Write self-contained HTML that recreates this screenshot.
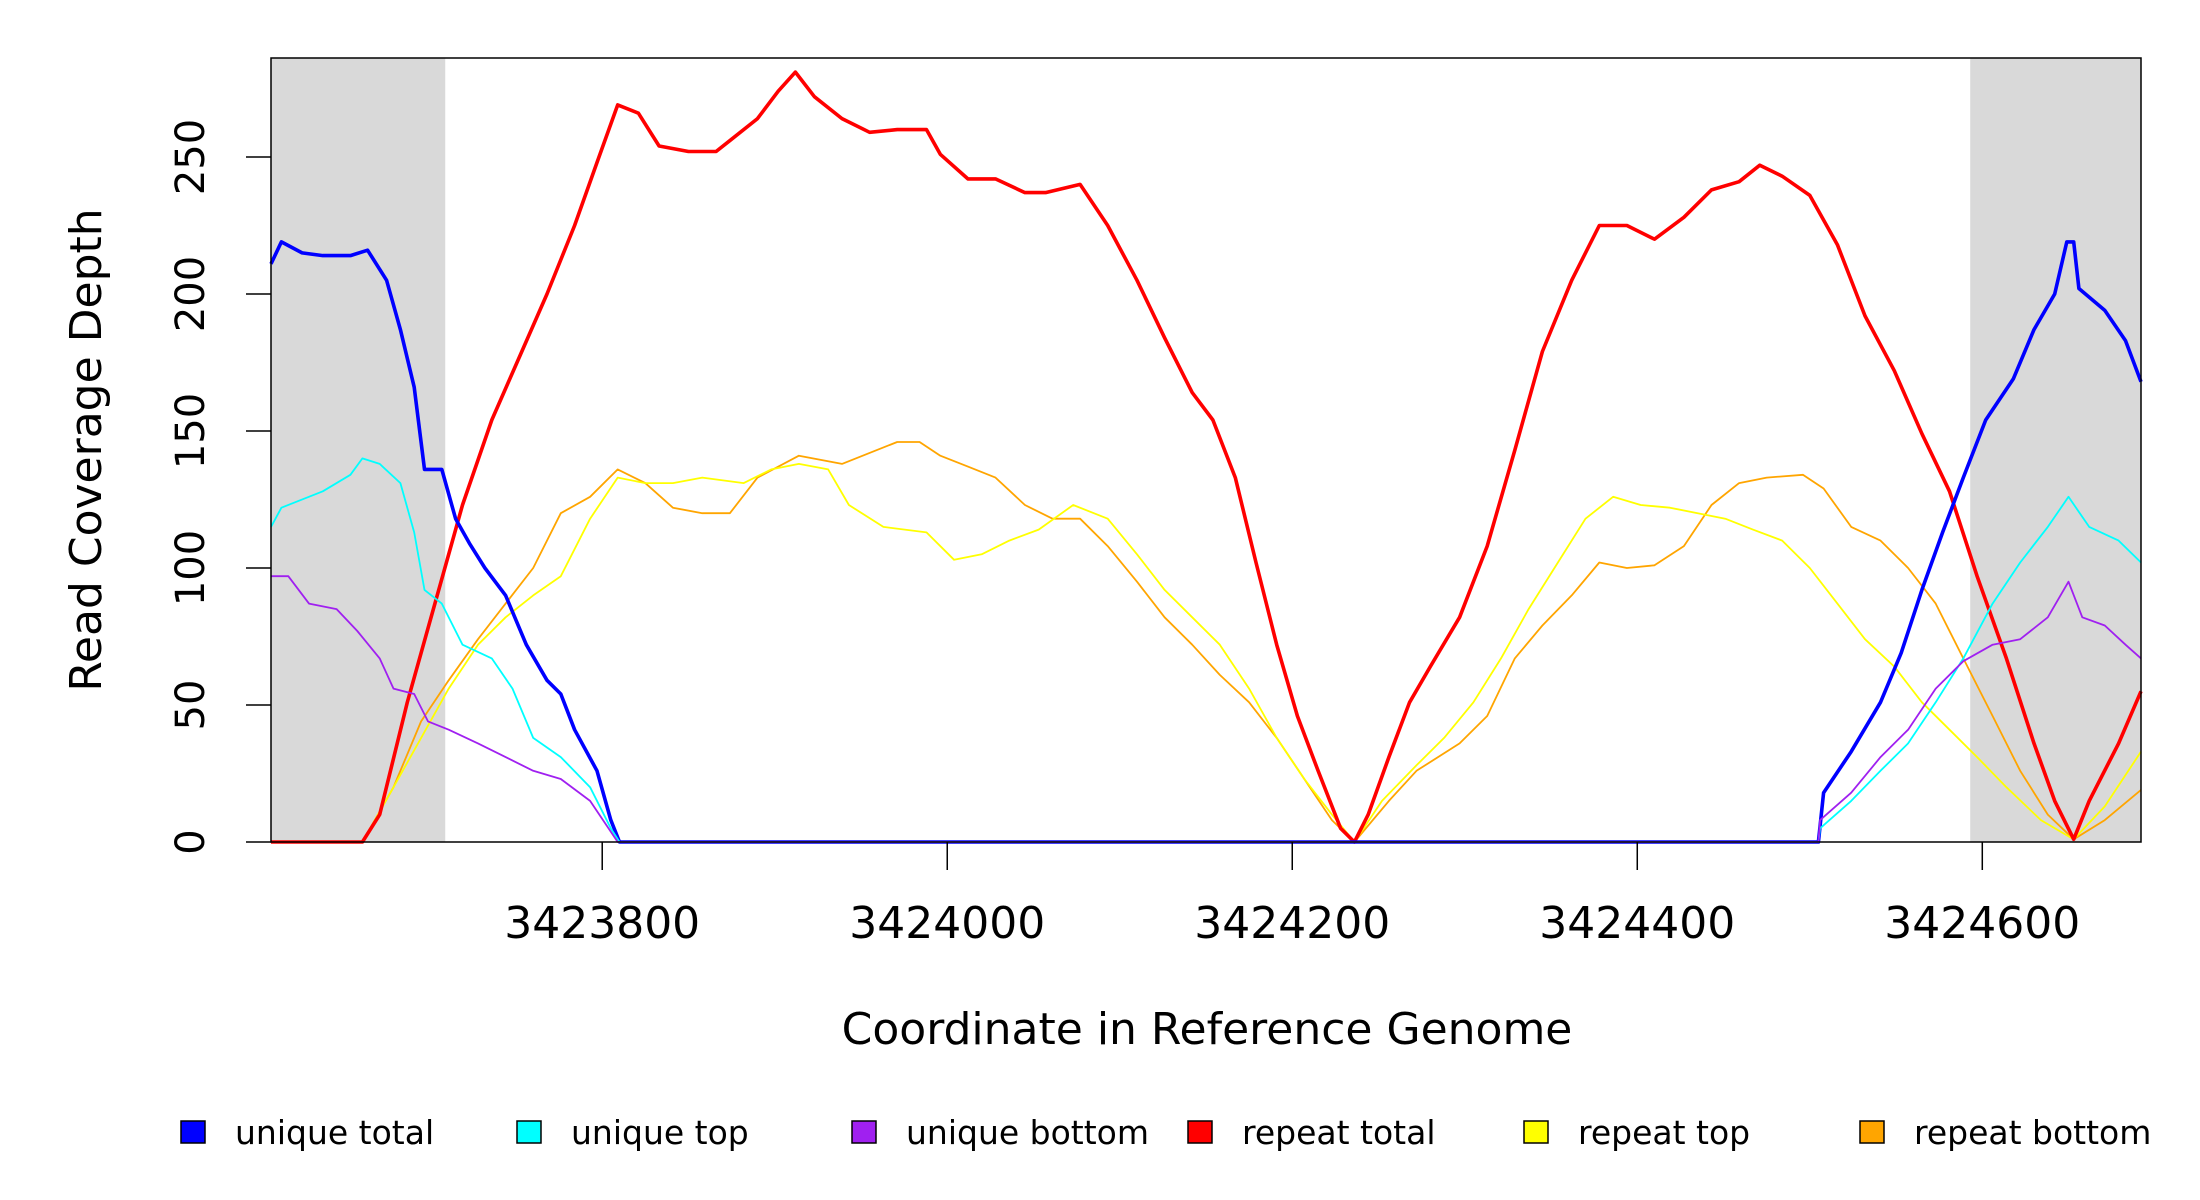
<!DOCTYPE html>
<html><head><meta charset="utf-8">
<style>
html,body{margin:0;padding:0;background:#fff;}
svg{display:block;font-family:"DejaVu Sans","Liberation Sans",sans-serif;}
</style></head>
<body>
<svg id="chart" width="2200" height="1200" viewBox="0 0 2200 1200" xmlns="http://www.w3.org/2000/svg">
<g id="shade"></g>
<g id="series"></g>
<rect x="271" y="58" width="1870" height="784" fill="none" stroke="#000" stroke-width="1.5"/>
<g id="yaxis"></g>
<g id="xaxis"></g>
<text x="1207" y="1044" font-size="44" text-anchor="middle">Coordinate in Reference Genome</text>
<text transform="translate(101,450) rotate(-90)" font-size="44" text-anchor="middle">Read Coverage Depth</text>
<g id="legend"></g>
</svg>
<script>
const yTicks=[0,50,100,150,200,250];
const xTicks=[3423800,3424000,3424200,3424400,3424600];
const shadeRanges=[[3423608,3423709],[3424593,3424692]];
const redX=[3423608,3423661,3423671,3423687,3423703,3423719,3423736,3423752,3423768,3423784,3423797,3423809,3423821,3423833,3423850,3423866,3423874,3423890,3423902,3423912,3423923,3423939,3423955,3423971,3423988,3423996,3424012,3424028,3424045,3424057,3424077,3424093,3424110,3424126,3424142,3424154,3424167,3424179,3424191,3424203,3424215,3424228,3424236,3424244,3424256,3424268,3424280,3424297,3424313,3424329,3424345,3424362,3424378,3424394,3424410,3424427,3424443,3424459,3424471,3424484,3424500,3424516,3424532,3424549,3424565,3424581,3424597,3424614,3424630,3424642,3424653,3424662,3424679,3424692];
const redY=[0,0,10,51,87,123,154,177,200,225,248,269,266,254,252,252,256,264,274,281,272,264,259,260,260,251,242,242,237,237,240,225,205,184,164,154,133,102,72,46,26,5,0,10,31,51,64,82,108,143,179,205,225,225,220,228,238,241,247,243,236,218,192,172,149,128,97,67,36,15,1,15,36,55];
const blueX=[3423608,3423614,3423626,3423638,3423654,3423664,3423675,3423683,3423691,3423697,3423707,3423715,3423723,3423732,3423744,3423756,3423768,3423776,3423784,3423797,3423805,3423810,3424505,3424508,3424524,3424541,3424553,3424565,3424577,3424589,3424602,3424618,3424630,3424642,3424649,3424653,3424656,3424671,3424683,3424692];
const blueY=[211,219,215,214,214,216,205,187,166,136,136,118,109,100,90,72,59,54,41,26,8,0,0,18,33,51,69,92,113,133,154,169,187,200,219,219,202,194,183,168];
const cyanX=[3423608,3423614,3423638,3423654,3423661,3423671,3423683,3423691,3423697,3423707,3423719,3423736,3423748,3423760,3423776,3423793,3423805,3423810,3424505,3424506,3424524,3424541,3424557,3424573,3424589,3424606,3424622,3424638,3424650,3424662,3424679,3424692];
const cyanY=[115,122,128,134,140,138,131,113,92,87,72,67,56,38,31,20,5,0,0,5,15,26,36,51,67,87,102,115,126,115,110,102];
const purpleX=[3423608,3423618,3423630,3423646,3423658,3423671,3423679,3423691,3423699,3423711,3423728,3423744,3423760,3423776,3423793,3423809,3424505,3424506,3424524,3424541,3424557,3424573,3424589,3424606,3424622,3424638,3424650,3424658,3424671,3424683,3424692];
const purpleY=[97,97,87,85,77,67,56,54,44,41,36,31,26,23,15,0,0,8,18,31,41,56,66,72,74,82,95,82,79,72,67];
const yellowX=[3423608,3423661,3423679,3423695,3423711,3423728,3423744,3423760,3423776,3423793,3423809,3423825,3423841,3423858,3423882,3423898,3423914,3423931,3423943,3423963,3423988,3424004,3424020,3424036,3424053,3424073,3424093,3424110,3424126,3424142,3424158,3424175,3424191,3424207,3424223,3424236,3424252,3424272,3424288,3424305,3424321,3424337,3424354,3424370,3424386,3424402,3424419,3424435,3424451,3424467,3424484,3424500,3424516,3424532,3424549,3424565,3424581,3424597,3424614,3424634,3424653,3424671,3424692];
const yellowY=[0,0,20,38,56,72,82,90,97,118,133,131,131,133,131,136,138,136,123,115,113,103,105,110,114,123,118,105,92,82,72,56,38,23,10,0,15,28,38,51,67,85,102,118,126,123,122,120,118,114,110,100,87,74,64,51,41,31,20,8,1,13,33];
const orangeX=[3423608,3423661,3423679,3423695,3423711,3423728,3423744,3423760,3423776,3423793,3423809,3423825,3423841,3423858,3423874,3423890,3423914,3423939,3423955,3423971,3423984,3423996,3424012,3424028,3424045,3424061,3424077,3424093,3424110,3424126,3424142,3424158,3424175,3424191,3424207,3424223,3424236,3424256,3424272,3424297,3424313,3424329,3424345,3424362,3424378,3424394,3424410,3424427,3424443,3424459,3424475,3424496,3424508,3424524,3424541,3424557,3424573,3424589,3424606,3424622,3424638,3424653,3424671,3424692];
const orangeY=[0,0,20,44,59,74,87,100,120,126,136,131,122,120,120,133,141,138,142,146,146,141,137,133,123,118,118,108,95,82,72,61,51,38,23,8,0,15,26,36,46,67,79,90,102,100,101,108,123,131,133,134,129,115,110,100,87,67,46,26,10,1,8,19];
const legendLabels=["unique total","unique top","unique bottom","repeat total","repeat top","repeat bottom"];
const legendColors=["#0000ff","#00ffff","#a020f0","#ff0000","#ffff00","#ffa500"];

const NS="http://www.w3.org/2000/svg";
const L=271,R=2141,T=58,B=842,X0=3423608,X1=3424692;
function sx(c){return L+(c-X0)/(X1-X0)*(R-L);}
function sy(v){return B-v*137/50;}
function mk(tag,attrs,parent){const e=document.createElementNS(NS,tag);for(const k in attrs)e.setAttribute(k,attrs[k]);parent.appendChild(e);return e;}

const shade=document.getElementById('shade');
shadeRanges.forEach((r,i)=>{
  const e=mk('rect',{x:sx(r[0]),y:T,width:sx(r[1])-sx(r[0]),height:B-T,fill:'#d9d9d9'},shade);
  
  
});

const ya=document.getElementById('yaxis');
yTicks.forEach(v=>{
  const l=mk('line',{x1:246,x2:271,y1:sy(v),y2:sy(v),stroke:'#000','stroke-width':1.5},ya);
  
  
  const t=mk('text',{transform:`translate(204,${sy(v)}) rotate(-90)`,'font-size':40,'text-anchor':'middle'},ya);
  
  
  t.textContent=v;
});
const xa=document.getElementById('xaxis');
xTicks.forEach(v=>{
  const l=mk('line',{x1:sx(v),x2:sx(v),y1:B,y2:B+28,stroke:'#000','stroke-width':1.5},xa);
  
  
  const t=mk('text',{x:sx(v),y:938,'font-size':44,'text-anchor':'middle'},xa);
  
  
  t.textContent=v;
});

const sg=document.getElementById('series');
function draw(xs,ys,color,w,name){
  const pts=xs.map((x,i)=>sx(x).toFixed(1)+','+sy(ys[i]).toFixed(1)).join(' ');
  const p=mk('polyline',{points:pts,fill:'none',stroke:color,'stroke-width':w,'stroke-linejoin':'round'},sg);
  
  
}
draw(orangeX,orangeY,'#ffa500',1.8,'repeat-bottom-line');
draw(yellowX,yellowY,'#ffff00',1.8,'repeat-top-line');
draw(redX,redY,'#ff0000',3.6,'repeat-total-line');
draw(blueX,blueY,'#0000ff',3.6,'unique-total-line');
draw(cyanX,cyanY,'#00ffff',1.8,'unique-top-line');
draw(purpleX,purpleY,'#a020f0',1.8,'unique-bottom-line');

const lg=document.getElementById('legend');
const lx=[181,517,852,1188,1524,1860];
legendLabels.forEach((lab,i)=>{
  const r=mk('rect',{x:lx[i],y:1121,width:24,height:22,fill:legendColors[i],stroke:'#000','stroke-width':1.5},lg);
  
  
  const t=mk('text',{x:lx[i]+54,y:1144,'font-size':33},lg);
  
  
  t.textContent=lab;
});
</script>
</body></html>
